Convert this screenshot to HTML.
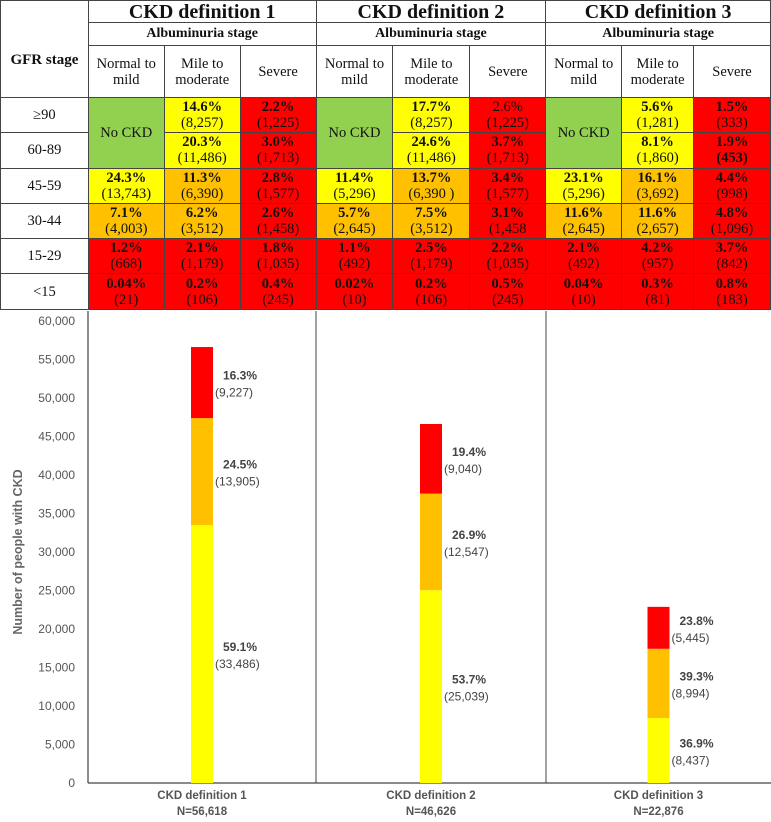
<!DOCTYPE html>
<html><head><meta charset="utf-8">
<style>
body{margin:0;background:#fff;width:771px;height:822px;overflow:hidden;font-family:"Liberation Serif",serif;}
#wrap{position:relative;width:771px;height:822px;}
table{position:absolute;left:0;top:0;border-collapse:collapse;table-layout:fixed;}
td{border:1px solid #444;text-align:center;padding:0;font-size:14.5px;line-height:16px;color:#111;}
.h1{font-weight:bold;font-size:20px;height:21px;}
.h2{font-weight:bold;font-size:14px;height:22px;}
.sub{height:52px;font-size:14.5px;}
tr.r{height:35.3px;}
.y{background:#ffff00}.o{background:#ffc000}.d{background:#ff0000}.g{background:#92d050}
b{font-weight:bold}
</style></head><body>
<div id="wrap">
<table>
<colgroup><col style="width:88px"><col style="width:76px"><col style="width:76px"><col style="width:76px"><col style="width:77px"><col style="width:77px"><col style="width:76px"><col style="width:76px"><col style="width:72px"><col style="width:77px"></colgroup>
<tr><td style="border-bottom:none"></td><td colspan="3" class="h1">CKD definition 1</td><td colspan="3" class="h1">CKD definition 2</td><td colspan="3" class="h1">CKD definition 3</td></tr>
<tr><td rowspan="2" style="border-top:none;font-weight:bold;font-size:15px">GFR stage</td><td colspan="3" class="h2">Albuminuria stage</td><td colspan="3" class="h2">Albuminuria stage</td><td colspan="3" class="h2">Albuminuria stage</td></tr>
<tr class="sub">
<td>Normal to mild</td><td>Mile to moderate</td><td>Severe</td>
<td>Normal to mild</td><td>Mile to moderate</td><td>Severe</td>
<td>Normal to mild</td><td>Mile to moderate</td><td>Severe</td></tr>
<tr class="r"><td>≥90</td>
<td rowspan="2" class="g">No CKD</td><td class="y"><b>14.6%</b><br>(8,257)</td><td class="d"><b>2.2%</b><br>(1,225)</td>
<td rowspan="2" class="g">No CKD</td><td class="y"><b>17.7%</b><br>(8,257)</td><td class="d">2.6%<br>(1,225)</td>
<td rowspan="2" class="g">No CKD</td><td class="y"><b>5.6%</b><br>(1,281)</td><td class="d"><b>1.5%</b><br>(333)</td></tr>
<tr class="r"><td>60-89</td>
<td class="y"><b>20.3%</b><br>(11,486)</td><td class="d"><b>3.0%</b><br>(1,713)</td>
<td class="y"><b>24.6%</b><br>(11,486)</td><td class="d"><b>3.7%</b><br>(1,713)</td>
<td class="y"><b>8.1%</b><br>(1,860)</td><td class="d"><b>1.9%</b><br><b>(453)</b></td></tr>
<tr class="r"><td>45-59</td>
<td class="y"><b>24.3%</b><br>(13,743)</td><td class="o"><b>11.3%</b><br>(6,390)</td><td class="d"><b>2.8%</b><br>(1,577)</td>
<td class="y"><b>11.4%</b><br>(5,296)</td><td class="o"><b>13.7%</b><br>(6,390 )</td><td class="d"><b>3.4%</b><br>(1,577)</td>
<td class="y"><b>23.1%</b><br>(5,296)</td><td class="o"><b>16.1%</b><br>(3,692)</td><td class="d"><b>4.4%</b><br>(998)</td></tr>
<tr class="r"><td>30-44</td>
<td class="o"><b>7.1%</b><br>(4,003)</td><td class="o"><b>6.2%</b><br>(3,512)</td><td class="d"><b>2.6%</b><br>(1,458)</td>
<td class="o"><b>5.7%</b><br>(2,645)</td><td class="o"><b>7.5%</b><br>(3,512)</td><td class="d"><b>3.1%</b><br>(1,458</td>
<td class="o"><b>11.6%</b><br>(2,645)</td><td class="o"><b>11.6%</b><br>(2,657)</td><td class="d"><b>4.8%</b><br>(1,096)</td></tr>
<tr class="r"><td>15-29</td>
<td class="d"><b>1.2%</b><br>(668)</td><td class="d"><b>2.1%</b><br>(1,179)</td><td class="d"><b>1.8%</b><br>(1,035)</td>
<td class="d"><b>1.1%</b><br>(492)</td><td class="d"><b>2.5%</b><br>(1,179)</td><td class="d"><b>2.2%</b><br>(1,035)</td>
<td class="d"><b>2.1%</b><br>(492)</td><td class="d"><b>4.2%</b><br>(957)</td><td class="d"><b>3.7%</b><br>(842)</td></tr>
<tr class="r"><td>&lt;15</td>
<td class="d"><b>0.04%</b><br>(21)</td><td class="d"><b>0.2%</b><br>(106)</td><td class="d"><b>0.4%</b><br>(245)</td>
<td class="d"><b>0.02%</b><br>(10)</td><td class="d"><b>0.2%</b><br>(106)</td><td class="d"><b>0.5%</b><br>(245)</td>
<td class="d"><b>0.04%</b><br>(10)</td><td class="d"><b>0.3%</b><br>(81)</td><td class="d"><b>0.8%</b><br>(183)</td></tr>
</table>
<svg id="chart" width="771" height="822" style="position:absolute;left:0;top:0"></svg>
</div>
<script>
const categories=["CKD definition 1","CKD definition 2","CKD definition 3"];
const totals=["N=56,618","N=46,626","N=22,876"];
const yellowVals=[33486,25039,8437];
const orangeVals=[13905,12547,8994];
const redVals=[9227,9040,5445];
const yellowPct=["59.1%","53.7%","36.9%"];
const orangePct=["24.5%","26.9%","39.3%"];
const redPct=["16.3%","19.4%","23.8%"];
const yTicks=[0,5000,10000,15000,20000,25000,30000,35000,40000,45000,50000,55000,60000];
const svg=document.getElementById('chart');const NS="http://www.w3.org/2000/svg";
const y0=783,yTop=321,yMax=60000;
function y(v){return y0-(v/yMax)*(y0-yTop);}
const colX=[88,316,546,771];
function x(i){return (colX[i]+colX[i+1])/2;}
function mk(t,a,txt){const e=document.createElementNS(NS,t);for(const k in a)e.setAttribute(k,a[k]);if(txt!==undefined)e.textContent=txt;svg.appendChild(e);return e;}
const font='"Liberation Sans",sans-serif';
let e=mk('line',{x1:88,x2:88,y1:311,y2:y0,stroke:'#444','stroke-width':1.2});


e=mk('line',{x1:88,x2:771,y1:y0,y2:y0,stroke:'#444','stroke-width':1.2});


[316,546].forEach(sx=>{const l=mk('line',{x1:sx,x2:sx,y1:311,y2:y0,stroke:'#444','stroke-width':1});

});
yTicks.forEach(t=>{const tx=mk('text',{x:75,y:y(t)+4,'text-anchor':'end','font-size':12,fill:'#555','font-family':font},t.toLocaleString('en-US'));

});
e=mk('text',{x:0,y:0,transform:'translate(22,'+((y0+yTop)/2)+') rotate(-90)','text-anchor':'middle','font-size':12.5,'font-weight':'bold',fill:'#666','font-family':font},'Number of people with CKD');


const bw=22;
categories.forEach((c,i)=>{
  const cx=x(i);let base=0;
  const segs=[[yellowVals[i],'#ffff00',yellowPct[i]],[orangeVals[i],'#ffc000',orangePct[i]],[redVals[i],'#ff0000',redPct[i]]];
  segs.forEach((s,j)=>{
    const top=base+s[0];
    const r=mk('rect',{x:cx-bw/2,y:y(top),width:bw,height:y(base)-y(top),fill:s[1]});
    
    
    const my=(y(base)+y(top))/2;
    const t1=mk('text',{x:cx+bw/2+10,y:my-3,'font-size':12,'font-weight':'bold',fill:'#444','font-family':font},s[2]);
    
    
    const t2=mk('text',{x:cx+bw/2+2,y:my+14,'font-size':12,fill:'#444','font-family':font},'('+s[0].toLocaleString('en-US')+')');
    
    
    base=top;
  });
  const l1=mk('text',{x:cx,y:799,'text-anchor':'middle','font-size':11.5,'font-weight':'bold',fill:'#555','font-family':font},c);
  
  
  const l2=mk('text',{x:cx,y:815,'text-anchor':'middle','font-size':11.5,'font-weight':'bold',fill:'#555','font-family':font},totals[i]);
  
  
});
</script>
</body></html>
